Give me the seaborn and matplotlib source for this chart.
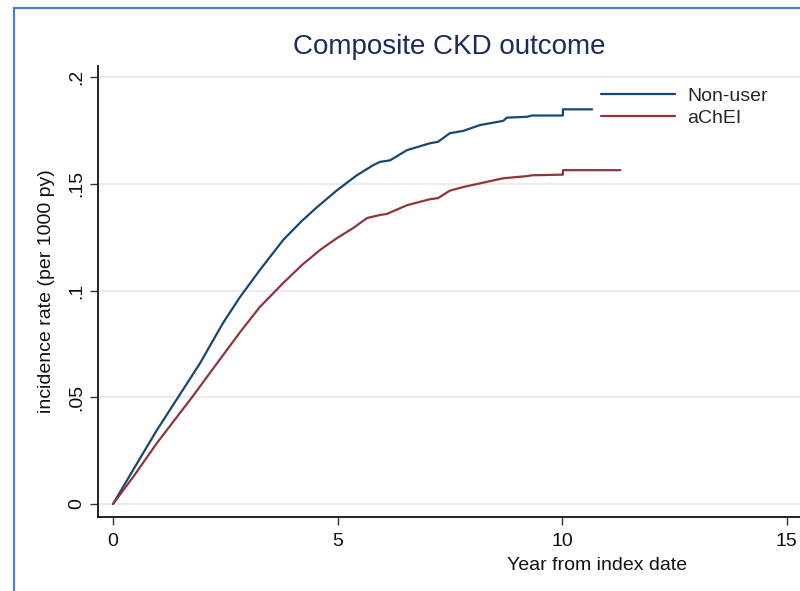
import matplotlib
matplotlib.use("Agg")
import matplotlib.pyplot as plt
from matplotlib.lines import Line2D
import seaborn as sns
import pandas as pd

# ---- data ----
groups = ["Non-user", "aChEI"]
colors = ["#1a476f", "#90353b"]

nonuser_year = [0, 0.45, 0.98, 1.45, 1.94, 2.45, 2.83, 3.27, 3.79, 4.2, 4.54, 4.99,
                5.43, 5.8, 5.95, 6.17, 6.55, 7.06, 7.24, 7.5, 7.8, 8.17, 8.69, 8.77,
                9.22, 9.33, 10.02, 10.02, 10.67]
nonuser_rate = [0, 0.016, 0.0347, 0.050, 0.066, 0.0848, 0.097, 0.1096, 0.1237, 0.1325,
                0.139, 0.147, 0.154, 0.1588, 0.1603, 0.161, 0.1658, 0.169, 0.1697,
                0.1737, 0.1748, 0.1775, 0.1795, 0.181, 0.1814, 0.182, 0.182, 0.1849,
                0.1849]

achei_year = [0, 0.45, 0.98, 1.76, 2.32, 2.83, 3.27, 3.79, 4.21, 4.61, 4.99, 5.35,
              5.66, 5.95, 6.1, 6.55, 7.06, 7.24, 7.5, 7.8, 8.17, 8.69, 9.22, 9.33,
              10.02, 10.02, 11.3]
achei_rate = [0, 0.0127, 0.0286, 0.050, 0.066, 0.0805, 0.0923, 0.1035, 0.112, 0.119,
              0.1246, 0.1293, 0.134, 0.1354, 0.1359, 0.1400, 0.1428, 0.1433, 0.1468,
              0.1485, 0.1502, 0.1526, 0.1536, 0.154, 0.1543, 0.1564, 0.1564]

xticks = [0, 5, 10, 15]
xticklabels = ["0", "5", "10", "15"]
yticks = [0, 0.05, 0.1, 0.15, 0.2]
yticklabels = ["0", ".05", ".1", ".15", ".2"]

title = "Composite CKD outcome"
xlabel = "Year from index date"
ylabel = "incidence rate (per 1000 py)"

df = pd.concat([
    pd.DataFrame({"year": nonuser_year, "rate": nonuser_rate, "group": groups[0]}),
    pd.DataFrame({"year": achei_year, "rate": achei_rate, "group": groups[1]}),
], ignore_index=True)

# ---- style ----
sns.set_theme(style="white")
plt.rcParams["font.family"] = ["Liberation Sans", "DejaVu Sans"]

W, H = 800, 591
fig = plt.figure(figsize=(W / 100, H / 100), dpi=100)
fig.patch.set_facecolor("white")

ax_l, ax_r, ax_t, ax_b = 98, 800, 66, 517
ax = fig.add_axes([ax_l / W, 1 - ax_b / H, (ax_r - ax_l) / W, (ax_b - ax_t) / H])

sns.lineplot(data=df, x="year", y="rate", hue="group", hue_order=groups,
             palette=colors, estimator=None, sort=False, linewidth=1.6,
             legend=False, ax=ax)

ax.set_xlim(-0.334, 15.3)
ax.set_ylim(-0.0061, 0.2052)
ax.set_xticks(xticks)
ax.set_xticklabels(xticklabels)
ax.set_yticks(yticks)
ax.set_yticklabels(yticklabels, rotation=90, va="center")
ax.set_xlabel("")
ax.set_ylabel("")

ax.yaxis.grid(True, color="#ebebeb", linewidth=1.5)
ax.xaxis.grid(False)
ax.set_axisbelow(True)

for s in ["top", "right"]:
    ax.spines[s].set_visible(False)
for s in ["left", "bottom"]:
    ax.spines[s].set_color("#111111")
    ax.spines[s].set_linewidth(1.3)

ax.tick_params(axis="both", which="major", direction="out", length=5.5,
               width=1, color="#333333", labelsize=14, labelcolor="#111111",
               bottom=True, left=True)
ax.tick_params(axis="x", pad=6)
ax.tick_params(axis="y", pad=4)

# legend
handles = [Line2D([0], [0], color=c, lw=1.6) for c in colors]
ax.legend(handles, groups, loc="center left",
          bbox_to_anchor=(601 / W, 1 - 107 / H), bbox_transform=fig.transFigure,
          frameon=False, fontsize=14, handlelength=3.8, handletextpad=0.65,
          labelspacing=0.25, borderpad=0, borderaxespad=0)

# titles
fig.text(449 / W, 1 - 47 / H, title, ha="center", va="center",
         fontsize=20, color="#1c2b5e")
fig.text(47 / W, 1 - 291 / H, ylabel, ha="center", va="center",
         rotation=90, fontsize=14, color="#111111")
fig.text(597 / W, 1 - 565 / H, xlabel, ha="center", va="center",
         fontsize=14, color="#111111")

# blue screenshot border (left and top)
bc = "#4a7fd6"
fig.add_artist(Line2D([14.5 / W, 14.5 / W], [0, 1 - 8 / H],
                      transform=fig.transFigure, color=bc, lw=1.6))
fig.add_artist(Line2D([14.5 / W, 1], [1 - 8 / H, 1 - 8 / H],
                      transform=fig.transFigure, color=bc, lw=1.6))

fig.savefig("out.png", dpi=100)
